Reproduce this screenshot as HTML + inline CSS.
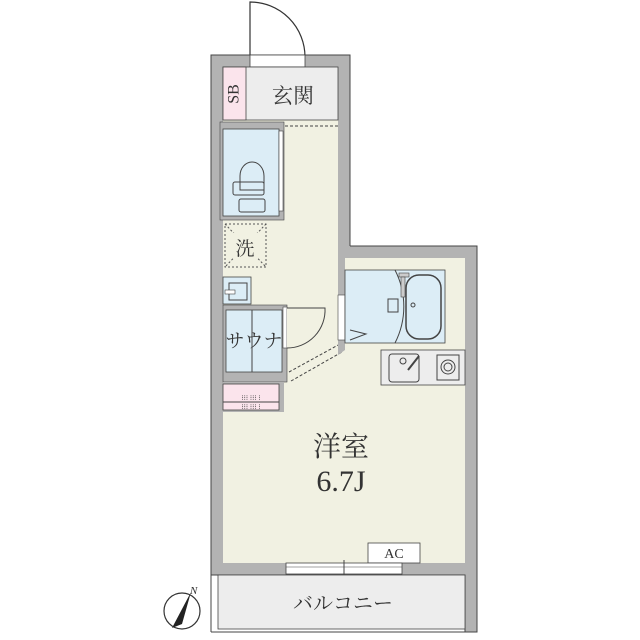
<!DOCTYPE html>
<html><head><meta charset="utf-8"><style>body{margin:0;background:#fff}svg{display:block}text{font-family:"Liberation Serif","Noto Serif CJK SC",serif;fill:#333}</style></head><body>
<svg width="640" height="640" viewBox="0 0 640 640" xmlns="http://www.w3.org/2000/svg">
<path d="M250 66 L250 2 A55 55 0 0 1 305 57 L305 66" fill="none" stroke="#333" stroke-width="1.2"/>
<path d="M211 55 L350 55 L350 246 L477 246 L477 632 L465 632 L465 575 L211 575 Z" fill="#b3b3b3" stroke="#444" stroke-width="1"/>
<rect x="250" y="55" width="55" height="12" fill="#fff" stroke="#444" stroke-width="0.8"/>
<path d="M223 120 L338 120 L338 258 L465 258 L465 563 L223 563 Z" fill="#f1f1e2"/>
<rect x="223" y="67" width="115" height="53" fill="#ededed" stroke="#444" stroke-width="0.8"/>
<rect x="223" y="67" width="23" height="53" fill="#fbe4ec" stroke="#444" stroke-width="0.8"/>
<text x="235" y="94" font-size="16" transform="rotate(-90 235 94)" text-anchor="middle" dominant-baseline="middle">SB</text>
<text x="293" y="103" font-size="21" text-anchor="middle">玄関</text>
<line x1="285" y1="126" x2="338" y2="126" stroke="#444" stroke-dasharray="3,2"/>
<rect x="220" y="122" width="64" height="98" fill="#b3b3b3" stroke="#444" stroke-width="0.6"/>
<rect x="223" y="129" width="56" height="87" fill="#dcedf6" stroke="#444" stroke-width="0.8"/>
<rect x="279" y="131" width="4" height="80" fill="#fff" stroke="#444" stroke-width="0.6"/>
<path d="M240 190 L240 176 A12 14 0 0 1 264 176 L264 190 Z" fill="none" stroke="#444"/>
<rect x="233" y="182" width="31" height="13" rx="2" fill="none" stroke="#444"/>
<rect x="239" y="199" width="26" height="13" rx="2" fill="none" stroke="#444"/>
<rect x="225" y="224" width="41" height="43" fill="none" stroke="#555" stroke-dasharray="2,2"/>
<line x1="225" y1="224" x2="266" y2="267" stroke="#555" stroke-dasharray="2,2"/>
<line x1="266" y1="224" x2="225" y2="267" stroke="#555" stroke-dasharray="2,2"/>
<rect x="233" y="233" width="25" height="25" fill="#f1f1e2"/>
<text x="245" y="255" font-size="19" text-anchor="middle">洗</text>
<rect x="223" y="277" width="28" height="27" fill="#dcedf6" stroke="#444" stroke-width="0.8"/>
<rect x="229" y="283" width="18" height="17" fill="none" stroke="#444"/>
<rect x="225" y="290" width="10" height="4" fill="#fff" stroke="#444" stroke-width="0.6"/>
<rect x="223" y="305" width="64" height="77" fill="#b3b3b3" stroke="#444" stroke-width="0.6"/>
<rect x="226" y="310" width="56" height="62" fill="#dcedf6" stroke="#444" stroke-width="0.8"/>
<line x1="252" y1="310" x2="252" y2="372" stroke="#444"/>
<text x="254" y="347" font-size="19" text-anchor="middle">サウナ</text>
<rect x="283" y="307" width="4" height="41" fill="#fff" stroke="#444" stroke-width="0.6"/>
<path d="M287 308 L325 308 A38 38 0 0 1 287 348" fill="#f1f1e2" stroke="#444"/>
<rect x="223" y="382" width="61" height="30" fill="#b3b3b3"/>
<rect x="223" y="384" width="56" height="26" fill="#fbe4ec" stroke="#444" stroke-width="0.8"/>
<line x1="223" y1="402" x2="279" y2="402" stroke="#444"/>
<text x="251" y="400" font-size="7" text-anchor="middle" fill="#555">⁝⁝⁝ ⁝⁝⁝ ⁝</text>
<text x="251" y="409" font-size="7" text-anchor="middle" fill="#555">⁝⁝⁝ ⁝⁝⁝ ⁝</text>
<path d="M289 372 L340 344 M291 381 L342 352" stroke="#444" stroke-dasharray="3,2" fill="none"/>
<path d="M338 258 L350 258 L350 246 L345 246 L345 350 L338 355 Z" fill="#b3b3b3"/>
<rect x="338" y="295" width="7" height="45" fill="#fff" stroke="#444" stroke-width="0.6"/>
<rect x="345" y="270" width="100" height="73" fill="#dcedf6" stroke="#444" stroke-width="0.8"/>
<path d="M395 270 A80 80 0 0 1 395 343" fill="none" stroke="#444"/>
<rect x="406" y="275" width="35" height="64" rx="13" fill="none" stroke="#444" stroke-width="1.5"/>
<rect x="399" y="273" width="10" height="4" fill="#ccc" stroke="#444" stroke-width="0.6"/>
<rect x="401" y="277" width="4" height="20" fill="#ccc" stroke="#444" stroke-width="0.6"/>
<rect x="388" y="299" width="10" height="13" fill="none" stroke="#444"/>
<circle cx="413" cy="305" r="2" fill="none" stroke="#444"/>
<path d="M350 330 L366 334 L350 340" fill="none" stroke="#444"/>
<rect x="381" y="350" width="84" height="35" fill="#ededed" stroke="#444" stroke-width="0.8"/>
<rect x="389" y="354" width="30" height="28" rx="3" fill="none" stroke="#444"/>
<circle cx="403" cy="361" r="3" fill="none" stroke="#444"/>
<path d="M408 370 L419 356" stroke="#444" stroke-width="2"/>
<rect x="437" y="355" width="22" height="25" fill="none" stroke="#444"/>
<circle cx="448" cy="367" r="7" fill="none" stroke="#444"/>
<circle cx="448" cy="367" r="4" fill="none" stroke="#444"/>
<text x="341" y="456" font-size="28" text-anchor="middle">洋室</text>
<text x="341" y="491" font-size="30" text-anchor="middle">6.7J</text>
<rect x="368" y="543" width="52" height="20" fill="#fff" stroke="#444" stroke-width="0.8"/>
<text x="394" y="558" font-size="14" text-anchor="middle" font-family="Liberation Sans,sans-serif">AC</text>
<rect x="286" y="563" width="116" height="11" fill="#fff" stroke="#444" stroke-width="0.8"/>
<line x1="286" y1="567" x2="402" y2="567" stroke="#444" stroke-width="0.6"/>
<line x1="344" y1="560" x2="344" y2="577" stroke="#444"/>
<rect x="218" y="575" width="247" height="54" fill="#ededed" stroke="#444" stroke-width="0.8"/>
<line x1="211" y1="575" x2="211" y2="632" stroke="#444"/>
<line x1="211" y1="632" x2="465" y2="632" stroke="#444"/>
<text x="343" y="610" font-size="20" text-anchor="middle">バルコニー</text>
<circle cx="182" cy="611" r="18" fill="none" stroke="#333" stroke-width="1.2"/>
<path d="M172 628 L191 592 L182 624 Z" fill="#222"/>
<text x="190" y="594" font-size="11" font-style="italic" font-family="Liberation Sans,sans-serif">N</text>
</svg>
</body></html>
